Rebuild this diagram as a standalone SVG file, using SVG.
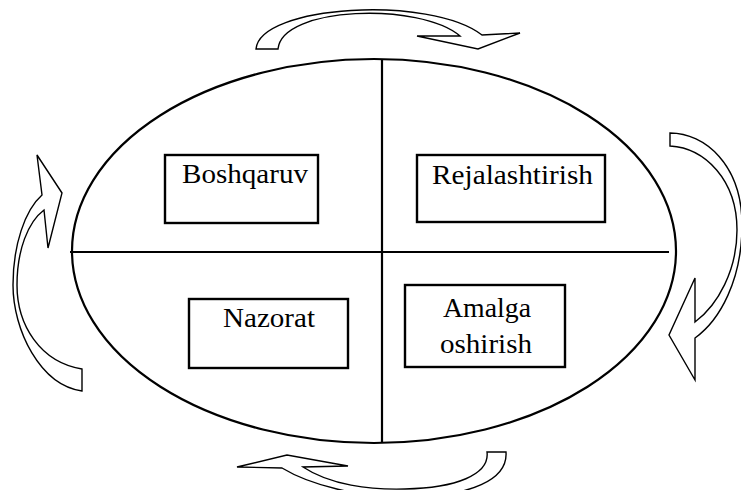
<svg xmlns="http://www.w3.org/2000/svg" width="741" height="490" viewBox="0 0 741 490">
<style>
.bg{fill:#fff}
.main{fill:none;stroke:#000;stroke-width:2.2}
.box{fill:#fff;stroke:#000;stroke-width:2.4}
.arrow{fill:#fff;stroke:#000;stroke-width:1.4;stroke-linejoin:miter}
.lbl{font-family:"Liberation Serif","Times New Roman",serif;font-size:27px;fill:#000}
</style>
<rect class="bg" x="0" y="0" width="741" height="490"/>
<g id="frame">
<ellipse class="main" cx="374" cy="251" rx="302" ry="192"/>
</g>
<g id="connectors">
<line class="main" x1="70" y1="252" x2="669" y2="252"/>
<line class="main" x1="382" y1="59" x2="382" y2="443"/>
<path id="arrow-top" class="arrow" d="M256,49 C260,5 430,-5 482,35 L520,33 L478,49 L417,36 L460,36 C420,2 282,6 278,49 Z"/>
<path id="arrow-right" class="arrow" d="M670,133 C705,133 742,165 742,225 C742,280 720,320 695,338 L695,380 L669,335 L695,278 L695,322 C718,305 737,270 737,230 C737,180 705,148 670,146 Z"/>
<path id="arrow-bottom" class="arrow" d="M506,452 C508,480 470,496 410,497 C360,498 310,485 282,468 L237,467 L287,455 L348,466 L303,467 C330,485 370,490 405,489 C455,488 490,475 487,452 Z"/>
<path id="arrow-left" class="arrow" d="M82,391 C40,385 13,330 13,285 C13,245 25,210 42,195 L37,155 L62,193 L48,248 L44,210 C28,222 17,250 17,285 C17,325 40,362 82,369 Z"/>
</g>
<g id="node-boshqaruv">
<rect class="box" x="165" y="155" width="153" height="68"/>
<text class="lbl" x="182" y="183" textLength="126" lengthAdjust="spacingAndGlyphs">Boshqaruv</text>
</g>
<g id="node-rejalashtirish">
<rect class="box" x="417" y="155" width="188" height="67"/>
<text class="lbl" x="432" y="184" textLength="161" lengthAdjust="spacingAndGlyphs">Rejalashtirish</text>
</g>
<g id="node-nazorat">
<rect class="box" x="189" y="299" width="159" height="69"/>
<text class="lbl" x="223" y="327" textLength="92" lengthAdjust="spacingAndGlyphs">Nazorat</text>
</g>
<g id="node-amalga">
<rect class="box" x="405" y="285" width="160" height="82"/>
<text class="lbl" x="443" y="317" textLength="88" lengthAdjust="spacingAndGlyphs">Amalga</text>
<text class="lbl" x="440" y="353" textLength="92" lengthAdjust="spacingAndGlyphs">oshirish</text>
</g>
</svg>
